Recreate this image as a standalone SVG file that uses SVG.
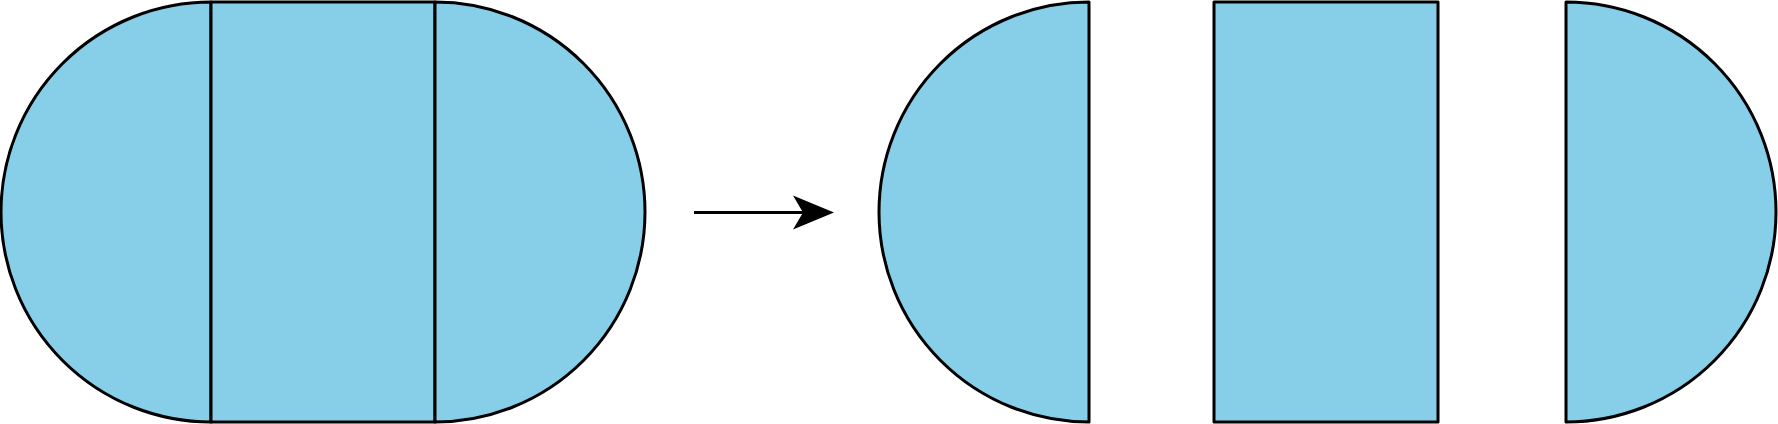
<svg xmlns="http://www.w3.org/2000/svg" width="1778" height="424" viewBox="0 0 1778 424">
<style>
.s{fill:#87CEE8;stroke:#000;stroke-width:3;stroke-linejoin:round}
.c{stroke:#000;stroke-width:3;fill:none}
</style>
<defs>
<marker id="ah" markerUnits="userSpaceOnUse" markerWidth="42" markerHeight="40" refX="12" refY="20" orient="auto">
<path d="M41,20 L0,3 L10,20 L0,37 Z" fill="#000"/>
</marker>
</defs>
<g id="whole">
<path class="s" d="M211,2 A210,210 0 0 0 211,422 Z"/>
<rect class="s" x="211" y="2" width="224" height="420"/>
<path class="s" d="M435,2 A210,210 0 0 1 435,422 Z"/>
</g>
<g id="connectors">
<line class="c" x1="694" y1="212.5" x2="805" y2="212.5" marker-end="url(#ah)"/>
</g>
<g id="left-half">
<path class="s" d="M1089,2 A210,210 0 0 0 1089,422 Z"/>
</g>
<g id="middle">
<rect class="s" x="1214" y="2" width="224" height="420"/>
</g>
<g id="right-half">
<path class="s" d="M1566,2 A210,210 0 0 1 1566,422 Z"/>
</g>
</svg>
